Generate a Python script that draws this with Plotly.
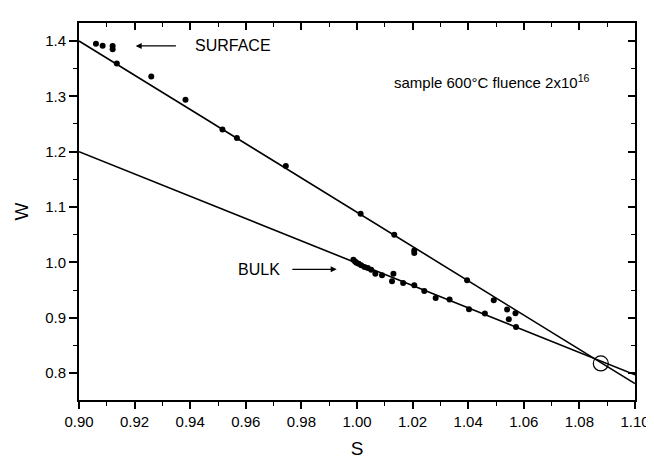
import plotly.graph_objects as go

# ---- data ----
surface_s = [0.9061, 0.9085, 0.9121, 0.9121, 0.9136, 0.9260, 0.9383, 0.9516, 0.9568,
             0.9744, 1.0013, 1.0134, 1.0206, 1.0206, 1.0396, 1.0492, 1.0540, 1.0570]
surface_w = [1.3951, 1.3915, 1.3910, 1.3850, 1.3591, 1.3357, 1.2937, 1.2402, 1.2247,
             1.1742, 1.0877, 1.0499, 1.0216, 1.0170, 0.9676, 0.9315, 0.9150, 0.9080]

bulk_s = [0.9987, 0.9993, 0.9998, 1.0006, 1.0015, 1.0027, 1.0039, 1.0051, 1.0066, 1.0090,
          1.0131, 1.0126, 1.0166, 1.0206, 1.0242, 1.0283, 1.0333, 1.0403, 1.0460, 1.0546, 1.0572]
bulk_w = [1.0049, 1.0018, 0.9991, 0.9976, 0.9946, 0.9915, 0.9897, 0.9868, 0.9796, 0.9766,
          0.9796, 0.9658, 0.9627, 0.9586, 0.9483, 0.9357, 0.9328, 0.9153, 0.9075, 0.8973, 0.8834]

fit_s = [0.90, 1.10]
fit_surface_w = [1.400, 0.781]
fit_bulk_w = [1.200, 0.797]

intersect_s = [1.0877]
intersect_w = [0.8175]

x_range = [0.90, 1.10]
y_range = [0.7514, 1.4324]
x_tickvals = [0.90, 0.92, 0.94, 0.96, 0.98, 1.00, 1.02, 1.04, 1.06, 1.08, 1.10]
x_ticktext = ["0.90", "0.92", "0.94", "0.96", "0.98", "1.00", "1.02", "1.04", "1.06", "1.08", "1.10"]
y_tickvals = [0.8, 0.9, 1.0, 1.1, 1.2, 1.3, 1.4]
y_ticktext = ["0.8", "0.9", "1.0", "1.1", "1.2", "1.3", "1.4"]

FONT = "Liberation Sans, Arial, sans-serif"

fig = go.Figure()

fig.add_trace(go.Scatter(x=fit_s, y=fit_surface_w, mode="lines",
                         line=dict(color="black", width=1.6), showlegend=False, hoverinfo="skip"))
fig.add_trace(go.Scatter(x=fit_s, y=fit_bulk_w, mode="lines",
                         line=dict(color="black", width=1.6), showlegend=False, hoverinfo="skip"))
fig.add_trace(go.Scatter(x=surface_s, y=surface_w, mode="markers",
                         marker=dict(color="black", size=6), showlegend=False))
fig.add_trace(go.Scatter(x=bulk_s, y=bulk_w, mode="markers",
                         marker=dict(color="black", size=6), showlegend=False))
fig.add_trace(go.Scatter(x=intersect_s, y=intersect_w, mode="markers",
                         marker=dict(symbol="circle-open", color="black", size=15,
                                     line=dict(width=1.2, color="black")),
                         showlegend=False))
# invisible trace to host mirrored (inside-tick) axes
fig.add_trace(go.Scatter(x=fit_s, y=fit_bulk_w, mode="markers", xaxis="x2", yaxis="y2",
                         marker=dict(opacity=0), showlegend=False, hoverinfo="skip"))

# annotations
fig.add_annotation(x=0.9204, y=1.391, ax=0.9354, ay=1.391, xref="x", yref="y",
                   axref="x", ayref="y", text="", showarrow=True,
                   arrowhead=2, arrowsize=1, arrowwidth=1.2, arrowcolor="black")
fig.add_annotation(x=0.9410, y=1.391, xref="x", yref="y", text="SURFACE",
                   showarrow=False, xanchor="left", yanchor="middle",
                   font=dict(family=FONT, size=16, color="black"))
fig.add_annotation(x=0.9927, y=0.9874, ax=0.9762, ay=0.9874, xref="x", yref="y",
                   axref="x", ayref="y", text="", showarrow=True,
                   arrowhead=2, arrowsize=1, arrowwidth=1.2, arrowcolor="black")
fig.add_annotation(x=0.9565, y=0.9874, xref="x", yref="y", text="BULK",
                   showarrow=False, xanchor="left", yanchor="middle",
                   font=dict(family=FONT, size=16, color="black"))
fig.add_annotation(x=1.0125, y=1.327, xref="x", yref="y",
                   text="sample 600°C fluence 2x10<sup>16</sup>",
                   showarrow=False, xanchor="left", yanchor="middle",
                   font=dict(family=FONT, size=15, color="black"))

axis_common = dict(showgrid=False, zeroline=False, linecolor="black", linewidth=1.8,
                   tickcolor="black", tickwidth=1.5,
                   tickfont=dict(family=FONT, size=15, color="black"))

fig.update_layout(
    width=654, height=460,
    # the page body adds an 8px offset; margins compensate so the plot area lands where the reference has it
    margin=dict(l=70, r=25, t=15, b=68),
    paper_bgcolor="white", plot_bgcolor="white",
    font=dict(family=FONT, color="black"),
    xaxis=dict(range=x_range, tickvals=x_tickvals, ticktext=x_ticktext,
               ticks="outside", ticklen=7, mirror=False,
               minor=dict(ticks="outside", dtick=0.01, ticklen=4, tickcolor="black", tickwidth=1.2),
               title=dict(text="S", font=dict(family=FONT, size=19, color="black"), standoff=13),
               **axis_common),
    yaxis=dict(range=y_range, tickvals=y_tickvals, ticktext=y_ticktext,
               ticks="outside", ticklen=8, mirror=False,
               minor=dict(ticks="outside", dtick=0.05, ticklen=4, tickcolor="black", tickwidth=1.2),
               title=dict(text="W", font=dict(family=FONT, size=19, color="black"), standoff=12),
               **axis_common),
    xaxis2=dict(range=x_range, overlaying="x", side="top", anchor="y",
                tickvals=x_tickvals, showticklabels=False, ticks="inside", ticklen=7,
                minor=dict(ticks="inside", dtick=0.01, ticklen=4, tickcolor="black", tickwidth=1.2),
                **axis_common),
    yaxis2=dict(range=y_range, overlaying="y", side="right", anchor="x",
                tickvals=y_tickvals, showticklabels=False, ticks="inside", ticklen=7,
                minor=dict(ticks="inside", dtick=0.05, ticklen=4, tickcolor="black", tickwidth=1.2),
                **axis_common),
)

fig.write_html("out.html")
